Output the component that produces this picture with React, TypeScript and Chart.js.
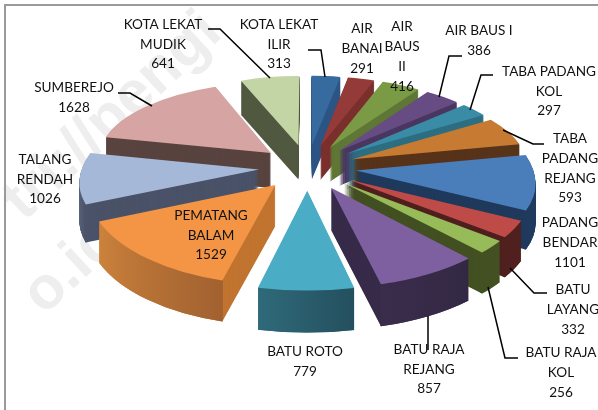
import React, { useEffect, useRef } from "react";
import { Chart, registerables } from "chart.js";

Chart.register(...registerables);

const categories = [
  ["KOTA LEKAT", "ILIR"], ["AIR", "BANAI"], ["AIR", "BAUS", "II"], ["AIR BAUS I"],
  ["TABA PADANG", "KOL"], ["TABA", "PADANG", "REJANG"], ["PADANG", "BENDAR"],
  ["BATU", "LAYANG"], ["BATU RAJA", "KOL"], ["BATU RAJA", "REJANG"], ["BATU ROTO"],
  ["PEMATANG", "BALAM"], ["TALANG", "RENDAH"], ["SUMBEREJO"], ["KOTA LEKAT", "MUDIK"],
];
const values = [313, 291, 416, 386, 297, 593, 1101, 332, 256, 857, 779, 1529, 1026, 1628, 641];
const topColors = ["#376A9E", "#943B39", "#7B9A45", "#664C82", "#3A8CA6", "#C77A32", "#4A7EBB", "#BE4B48", "#98BB59", "#7E60A0", "#4BACC6", "#F39545", "#A6B8D8", "#D5A4A3", "#C3D5A5"];
const sideColors = ["#2C5584", "#7A2F2D", "#5F7736", "#4A3760", "#2D6E82", "#57331A", "#1F3A5C", "#4F201E", "#435022", "#372B49", "#2B6476", "#C0742F", "#4A5268", "#58433F", "#50583F"];
const wallStart = ["#2C5584", "#7A2F2D", "#5F7736", "#4A3760", "#2D6E82", "#57331A", "#1F3A5C", "#4F201E", "#435022", "#3A2D4C", "#2F6A7A", "#CC823C", "#6E7F9F", "#58433F", "#50583F"];
const wallEnd = ["#2C5584", "#7A2F2D", "#5F7736", "#4A3760", "#2D6E82", "#57331A", "#1F3A5C", "#4F201E", "#435022", "#332844", "#244F5E", "#A16130", "#4A5268", "#58433F", "#50583F"];

// label layout: centre x, first line y
const labelX = [279, 362, 402, 479, 549, 570, 570, 573, 561, 429, 305, 211, 45, 74, 163];
const labelY = [25, 29, 27, 31, 72, 139, 223, 290, 353, 350, 352, 216, 160, 88, 25];
const lineGap = [19.5, 20, 20, 19.5, 19.5, 19.7, 20, 19.7, 20, 19.5, 19.5, 19.5, 19.5, 19.5, 19.5];
const leaders = [
  [[308, 50], [321, 50], [325, 77]],
  [[462, 56], [449, 56], [439, 97]],
  [[493, 75], [481, 75], [470, 110]],
  [[544, 144], [533, 144], [503, 130]],
  [[547, 293], [534, 293], [510, 268]],
  [[518, 358], [505, 358], [488, 287]],
  [[428, 350], [428, 316]],
  [[118, 93], [130, 93], [152, 106]],
  [[208, 29], [220, 29], [270, 78]],
];

// perspective view of the pie plane
const VIEW = { x0: 307.5, y0: 167.2, b: 177, a: 82.5, k: 0.1175, e: 0.275 };
const project = (X: number, Y: number): [number, number] => {
  const w = 1 + VIEW.k * Y;
  return [VIEW.x0 + (VIEW.b * X) / w, VIEW.y0 - (VIEW.a * Y) / w];
};

const pie3d = {
  id: "pie3d",
  beforeDraw(chart: any) {
    const ctx = chart.ctx;
    ctx.save();
    ctx.fillStyle = "#ffffff";
    ctx.fillRect(0, 0, chart.width, chart.height);
    // watermark
    ctx.fillStyle = "#EEEEEE";
    ctx.font = "bold 60px 'Liberation Sans'";
    ctx.textAlign = "left";
    ctx.textBaseline = "alphabetic";
    ctx.save();
    ctx.translate(24, 222);
    ctx.rotate((-43 * Math.PI) / 180);
    ctx.fillText("tri://pengi", 0, 0);
    ctx.restore();
    ctx.save();
    ctx.translate(44, 316);
    ctx.rotate((-43 * Math.PI) / 180);
    ctx.fillText("o.id", 0, 0);
    ctx.restore();
    // frame
    ctx.fillStyle = "#9A9A9A";
    ctx.fillRect(4, 4, chart.width - 4, 2);
    ctx.fillRect(4, 4, 2, chart.height - 4);
    ctx.restore();
  },
  beforeDatasetsDraw(chart: any) {
    const ctx = chart.ctx;
    const arcs: any[] = chart.getDatasetMeta(0).data;
    const infos = arcs.map((arc, i) => {
      const s = arc.startAngle, t = arc.endAngle, m = (s + t) / 2, R = arc.outerRadius;
      const ax = VIEW.e * Math.cos(m), ay = -VIEW.e * Math.sin(m);
      const p0 = project(ax, ay);
      const p1 = project(ax + Math.cos(s), ay - Math.sin(s));
      const p2 = project(ax + Math.cos(t), ay - Math.sin(t));
      const v1 = [R * Math.cos(s), R * Math.sin(s)], v2 = [R * Math.cos(t), R * Math.sin(t)];
      const det = v1[0] * v2[1] - v2[0] * v1[1];
      const u1 = [p1[0] - p0[0], p1[1] - p0[1]], u2 = [p2[0] - p0[0], p2[1] - p0[1]];
      const A = (u1[0] * v2[1] - u2[0] * v1[1]) / det;
      const C = (u2[0] * v1[0] - u1[0] * v2[0]) / det;
      const B = (u1[1] * v2[1] - u2[1] * v1[1]) / det;
      const D = (u2[1] * v1[0] - u1[1] * v2[0]) / det;
      const E = p0[0] - A * arc.x - C * arc.y;
      const F = p0[1] - B * arc.x - D * arc.y;
      const depth = 38 - 3.5 * (ay - Math.sin(m));
      const grad = ctx.createLinearGradient(
        arc.x + R * Math.cos(s), arc.y + R * Math.sin(s),
        arc.x + R * Math.cos(t), arc.y + R * Math.sin(t));
      grad.addColorStop(0, wallEnd[i]);
      grad.addColorStop(1, wallStart[i]);
      return { arc, i, M: [A, B, C, D, E, F], depth, grad, order: -Math.sin(m) };
    });
    const paint = (info: any, k: number, color: any, ring: boolean) => {
      const { arc, M } = info;
      const opts = arc.options, inner = arc.innerRadius;
      arc.options = { ...opts, backgroundColor: color, borderWidth: 0 };
      if (ring) arc.innerRadius = arc.outerRadius - 3;
      ctx.save();
      ctx.translate(0, k);
      ctx.transform(M[0], M[1], M[2], M[3], M[4], M[5]);
      arc.draw(ctx);
      ctx.restore();
      arc.options = opts;
      arc.innerRadius = inner;
    };
    infos.sort((p, q) => q.order - p.order).forEach((info) => {
      for (let k = Math.round(info.depth); k > 0; k--) paint(info, k, sideColors[info.i], false);
      for (let k = Math.round(info.depth); k > 0; k--) paint(info, k, info.grad, true);
      paint(info, 0, topColors[info.i], false);
    });
    return false;
  },
  afterDraw(chart: any) {
    const ctx = chart.ctx;
    ctx.save();
    ctx.strokeStyle = "#000000";
    ctx.lineWidth = 1.5;
    leaders.forEach((pts) => {
      ctx.beginPath();
      pts.forEach((p, j) => (j ? ctx.lineTo(p[0], p[1]) : ctx.moveTo(p[0], p[1])));
      ctx.stroke();
    });
    ctx.fillStyle = "#111111";
    ctx.font = "13.6px Lato";
    ctx.textAlign = "center";
    ctx.textBaseline = "middle";
    categories.forEach((lines, i) => {
      [...lines, String(values[i])].forEach((t, j) => {
        ctx.fillText(t, labelX[i], labelY[i] + j * lineGap[i]);
      });
    });
    ctx.restore();
  },
};

export default function App() {
  const ref = useRef<HTMLCanvasElement>(null);
  useEffect(() => {
    document.body.style.margin = "0";
    const chart = new Chart(ref.current!, {
      type: "pie",
      data: {
        labels: categories.map((c) => c.join(" ")),
        datasets: [{ data: values, backgroundColor: topColors, borderWidth: 0 }],
      },
      options: {
        animation: false,
        responsive: false,
        plugins: { legend: { display: false }, tooltip: { enabled: false } },
      },
      plugins: [pie3d],
    } as any);
    return () => chart.destroy();
  }, []);
  return <canvas ref={ref} width={598} height={410} style={{ display: "block" }} />;
}
